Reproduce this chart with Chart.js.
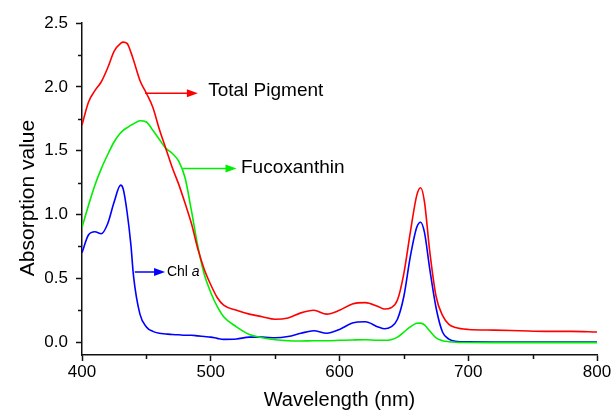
<!DOCTYPE html>
<html>
<head>
<meta charset="utf-8">
<script src="https://cdn.jsdelivr.net/npm/chart.js@4.4.0/dist/chart.umd.min.js"></script>
<style>
  body { margin: 0; background: #fff; }
  canvas { display: block; }
</style>
</head>
<body>
<canvas id="spectra" width="614" height="414"></canvas>
<script>
// Wavelength grid (nm) shared by all three spectra
const wavelengths = [400, 405, 410, 415, 420, 425, 430, 432, 435, 438,
                     440, 445, 450, 455, 460, 465, 470, 475, 480, 485,
                     490, 495, 500, 505, 510, 520, 530, 540, 550, 560,
                     570, 580, 590, 600, 610, 620, 630, 635, 640, 645,
                     650, 655, 660, 663, 666, 670, 675, 680, 685, 690,
                     700, 720, 740, 760, 780, 800];

const totalPigment = [1.70, 1.88, 1.97, 2.04, 2.15, 2.28, 2.34, 2.35, 2.34, 2.27,
                      2.21, 2.05, 1.95, 1.84, 1.67, 1.52, 1.37, 1.24, 1.09, 0.93,
                      0.73, 0.57, 0.45, 0.35, 0.29, 0.25, 0.22, 0.20, 0.18, 0.19,
                      0.23, 0.25, 0.22, 0.25, 0.30, 0.31, 0.28, 0.26, 0.27, 0.33,
                      0.54, 0.86, 1.15, 1.21, 1.10, 0.72, 0.36, 0.21, 0.14, 0.115,
                      0.10, 0.095, 0.09, 0.085, 0.085, 0.08];

const fucoxanthin = [0.90, 1.07, 1.23, 1.36, 1.47, 1.57, 1.64, 1.66, 1.68, 1.70,
                     1.71, 1.735, 1.725, 1.66, 1.59, 1.52, 1.48, 1.42, 1.29, 1.03,
                     0.75, 0.53, 0.39, 0.28, 0.20, 0.12, 0.06, 0.035, 0.02, 0.012,
                     0.01, 0.012, 0.012, 0.015, 0.018, 0.02, 0.015, 0.015, 0.02, 0.04,
                     0.08, 0.12, 0.148, 0.15, 0.135, 0.09, 0.035, 0.012, 0.004, 0.0,
                     -0.002, -0.003, -0.003, -0.003, -0.003, -0.003];

const chlA = [0.70, 0.84, 0.865, 0.85, 0.93, 1.10, 1.23, 1.20, 1.02, 0.76,
              0.52, 0.22, 0.12, 0.085, 0.07, 0.065, 0.06, 0.058, 0.055, 0.055,
              0.05, 0.045, 0.04, 0.03, 0.022, 0.025, 0.04, 0.04, 0.035, 0.045,
              0.07, 0.09, 0.07, 0.10, 0.15, 0.16, 0.12, 0.105, 0.12, 0.18,
              0.36, 0.67, 0.90, 0.94, 0.86, 0.58, 0.27, 0.08, 0.025, 0.008,
              0.003, 0.002, 0.002, 0.002, 0.002, 0.002];

const xTicks = [400, 500, 600, 700, 800];
const xMinorTicks = [450, 550, 650, 750];
const yTicks = [0, 0.5, 1, 1.5, 2, 2.5];
const yMinorTicks = [0.25, 0.75, 1.25, 1.75, 2.25];

// Arrow callouts in data units: arrow from x0 to x1 at height y, label at (tx, ty)
const callouts = [
    { text: 'Total Pigment', italic: '', color: '#ff0000', x0: 449, x1: 490, y: 1.95, tx: 498, ty: 1.97, size: 19 },
    { text: 'Fucoxanthin', italic: '', color: '#00ee00', x0: 478.5, x1: 520, y: 1.36, tx: 523.5, ty: 1.37, size: 19 },
    { text: 'Chl ', italic: 'a', color: '#0000ff', x0: 441, x1: 464.5, y: 0.55, tx: 466, ty: 0.55, size: 14 }
];

const FONT = "'Liberation Sans', Arial, sans-serif";

function toPoints(values) {
    return wavelengths.map((w, i) => ({ x: w, y: values[i] }));
}

function series(label, values, color) {
    return {
        label: label,
        data: toPoints(values),
        borderColor: color,
        borderWidth: 1.6,
        pointRadius: 0,
        fill: false,
        cubicInterpolationMode: 'monotone'
    };
}

// Minor ticks, y title and arrow callouts
const extrasPlugin = {
    id: 'extras',
    afterDraw: function(chart) {
        const ctx = chart.ctx;
        const xs = chart.scales.x;
        const ys = chart.scales.y;
        const area = chart.chartArea;

        ctx.save();
        ctx.strokeStyle = '#111';
        ctx.lineWidth = 1.5;
        xMinorTicks.forEach(v => {
            const px = Math.round(xs.getPixelForValue(v)) + 0.5;
            ctx.beginPath();
            ctx.moveTo(px, area.bottom);
            ctx.lineTo(px, area.bottom + 4);
            ctx.stroke();
        });
        yMinorTicks.forEach(v => {
            const py = Math.round(ys.getPixelForValue(v)) + 0.5;
            ctx.beginPath();
            ctx.moveTo(area.left, py);
            ctx.lineTo(area.left - 4, py);
            ctx.stroke();
        });

        // y axis title, centred a little below the axis middle as in the source
        ctx.fillStyle = '#000';
        ctx.font = '21px ' + FONT;
        ctx.textAlign = 'center';
        ctx.textBaseline = 'middle';
        ctx.translate(28, 198);
        ctx.rotate(-Math.PI / 2);
        ctx.fillText('Absorption value', 0, 0);
        ctx.setTransform(1, 0, 0, 1, 0, 0);

        callouts.forEach(c => {
            const x0 = xs.getPixelForValue(c.x0);
            const x1 = xs.getPixelForValue(c.x1);
            const y = ys.getPixelForValue(c.y);
            ctx.strokeStyle = c.color;
            ctx.fillStyle = c.color;
            ctx.lineWidth = 1.5;
            ctx.beginPath();
            ctx.moveTo(x0, y);
            ctx.lineTo(x1 - 8, y);
            ctx.stroke();
            ctx.beginPath();
            ctx.moveTo(x1, y);
            ctx.lineTo(x1 - 11, y - 4);
            ctx.lineTo(x1 - 11, y + 4);
            ctx.closePath();
            ctx.fill();

            ctx.fillStyle = '#000';
            ctx.textBaseline = 'middle';
            ctx.textAlign = 'left';
            ctx.font = c.size + 'px ' + FONT;
            const tx = xs.getPixelForValue(c.tx);
            const ty = ys.getPixelForValue(c.ty);
            ctx.fillText(c.text, tx, ty);
            if (c.italic) {
                const w = ctx.measureText(c.text).width;
                ctx.font = 'italic ' + c.size + 'px ' + FONT;
                ctx.fillText(c.italic, tx + w, ty);
            }
        });
        ctx.restore();
    }
};

const chart = new Chart(document.getElementById('spectra').getContext('2d'), {
    type: 'line',
    data: {
        datasets: [
            series('Total Pigment', totalPigment, '#ff0000'),
            series('Fucoxanthin', fucoxanthin, '#00ee00'),
            series('Chl a', chlA, '#0000ff')
        ]
    },
    options: {
        responsive: false,
        animation: false,
        layout: {
            padding: { left: 0, top: 23, right: 17, bottom: 0 }
        },
        scales: {
            x: {
                type: 'linear',
                min: 400,
                max: 800,
                afterBuildTicks: scale => { scale.ticks = xTicks.map(v => ({ value: v })); },
                afterFit: scale => { scale.height = 59; },
                ticks: {
                    color: '#000',
                    font: { family: FONT, size: 17 },
                    padding: 1,
                    maxRotation: 0,
                    autoSkip: false
                },
                grid: {
                    drawOnChartArea: false,
                    drawTicks: true,
                    tickLength: 6,
                    tickColor: '#111',
                    tickWidth: 1.5
                },
                border: { display: true, color: '#111', width: 1.5 },
                title: {
                    display: true,
                    text: 'Wavelength (nm)',
                    color: '#000',
                    font: { family: FONT, size: 20 },
                    padding: { top: 0, bottom: 2 }
                }
            },
            y: {
                min: -0.1,
                max: 2.5,
                afterBuildTicks: scale => { scale.ticks = yTicks.map(v => ({ value: v })); },
                afterFit: scale => { scale.width = 82; },
                ticks: {
                    color: '#000',
                    font: { family: FONT, size: 17 },
                    padding: 8,
                    callback: v => v.toFixed(1)
                },
                grid: {
                    drawOnChartArea: false,
                    drawTicks: true,
                    tickLength: 6,
                    tickColor: '#111',
                    tickWidth: 1.5
                },
                border: { display: true, color: '#111', width: 1.5 },
                title: { display: false }
            }
        },
        plugins: {
            legend: { display: false },
            tooltip: { enabled: false }
        }
    },
    plugins: [extrasPlugin]
});
</script>
</body>
</html>
